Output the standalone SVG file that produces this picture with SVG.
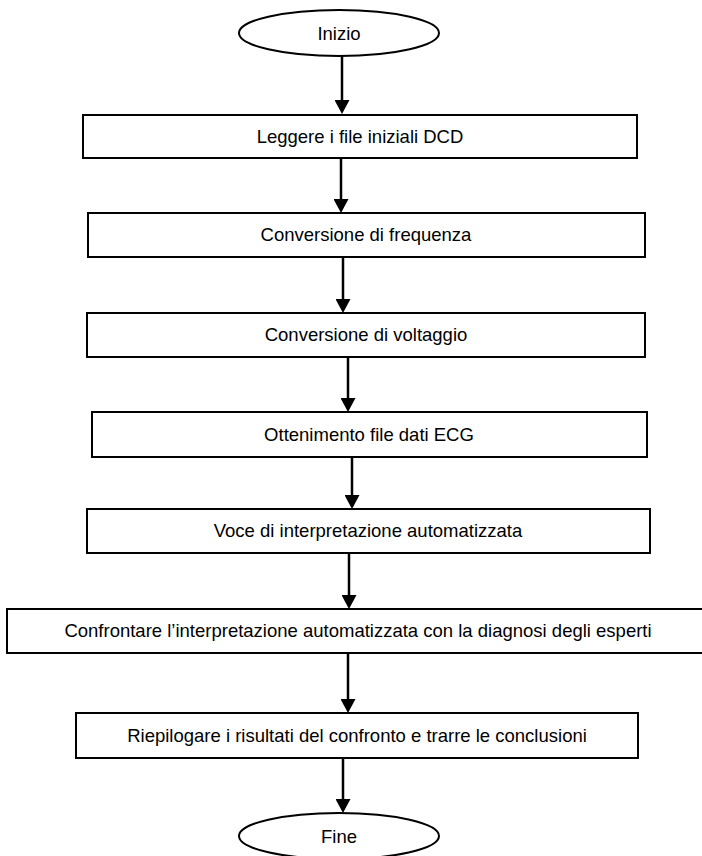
<svg xmlns="http://www.w3.org/2000/svg" width="702" height="856" viewBox="0 0 702 856">
<style>
.box{fill:#fff;stroke:#000;stroke-width:2}
.term{fill:#fff;stroke:#000;stroke-width:2}
.lbl{font-family:"Liberation Sans",Arial,sans-serif;font-size:18.5px;fill:#000;text-anchor:middle}
.conn{stroke:#000;stroke-width:2.5;fill:none;marker-end:url(#ah)}
</style>
<defs>
<marker id="ah" viewBox="0 0 14 15" refX="10" refY="7.5" markerWidth="14" markerHeight="15" markerUnits="userSpaceOnUse" orient="auto">
<path d="M0,0 L14,7.5 L0,15 z" fill="#000"/>
</marker>
</defs>
<rect width="702" height="856" fill="#fff"/>
<g id="connectors">
<line class="conn" x1="342" y1="56" x2="342" y2="110"/>
<line class="conn" x1="341" y1="158" x2="341" y2="209"/>
<line class="conn" x1="343" y1="257" x2="343" y2="309"/>
<line class="conn" x1="348" y1="357" x2="348" y2="408"/>
<line class="conn" x1="352" y1="457" x2="352" y2="505"/>
<line class="conn" x1="349" y1="553" x2="349" y2="605"/>
<line class="conn" x1="348" y1="653" x2="348" y2="709"/>
<line class="conn" x1="343" y1="758" x2="343" y2="809"/>
</g>
<g id="start">
<ellipse class="term" cx="339" cy="33" rx="100" ry="23"/>
<text class="lbl" x="339" y="40">Inizio</text>
</g>
<g id="step1">
<rect class="box" x="83" y="115" width="554" height="43"/>
<text class="lbl" x="360" y="143">Leggere i file iniziali DCD</text>
</g>
<g id="step2">
<rect class="box" x="88" y="213" width="557" height="44"/>
<text class="lbl" x="366" y="241">Conversione di frequenza</text>
</g>
<g id="step3">
<rect class="box" x="87" y="313" width="558" height="44"/>
<text class="lbl" x="366" y="341">Conversione di voltaggio</text>
</g>
<g id="step4">
<rect class="box" x="92" y="412" width="555" height="45"/>
<text class="lbl" x="369" y="441">Ottenimento file dati ECG</text>
</g>
<g id="step5">
<rect class="box" x="87" y="509" width="563" height="44"/>
<text class="lbl" x="368" y="537">Voce di interpretazione automatizzata</text>
</g>
<g id="step6">
<rect class="box" x="7" y="609" width="703" height="44"/>
<text class="lbl" x="358" y="637">Confrontare l’interpretazione automatizzata con la diagnosi degli esperti</text>
</g>
<g id="step7">
<rect class="box" x="76" y="713" width="562" height="45"/>
<text class="lbl" x="357" y="742">Riepilogare i risultati del confronto e trarre le conclusioni</text>
</g>
<g id="end">
<ellipse class="term" cx="339" cy="836" rx="100" ry="23"/>
<text class="lbl" x="339" y="843">Fine</text>
</g>
</svg>
